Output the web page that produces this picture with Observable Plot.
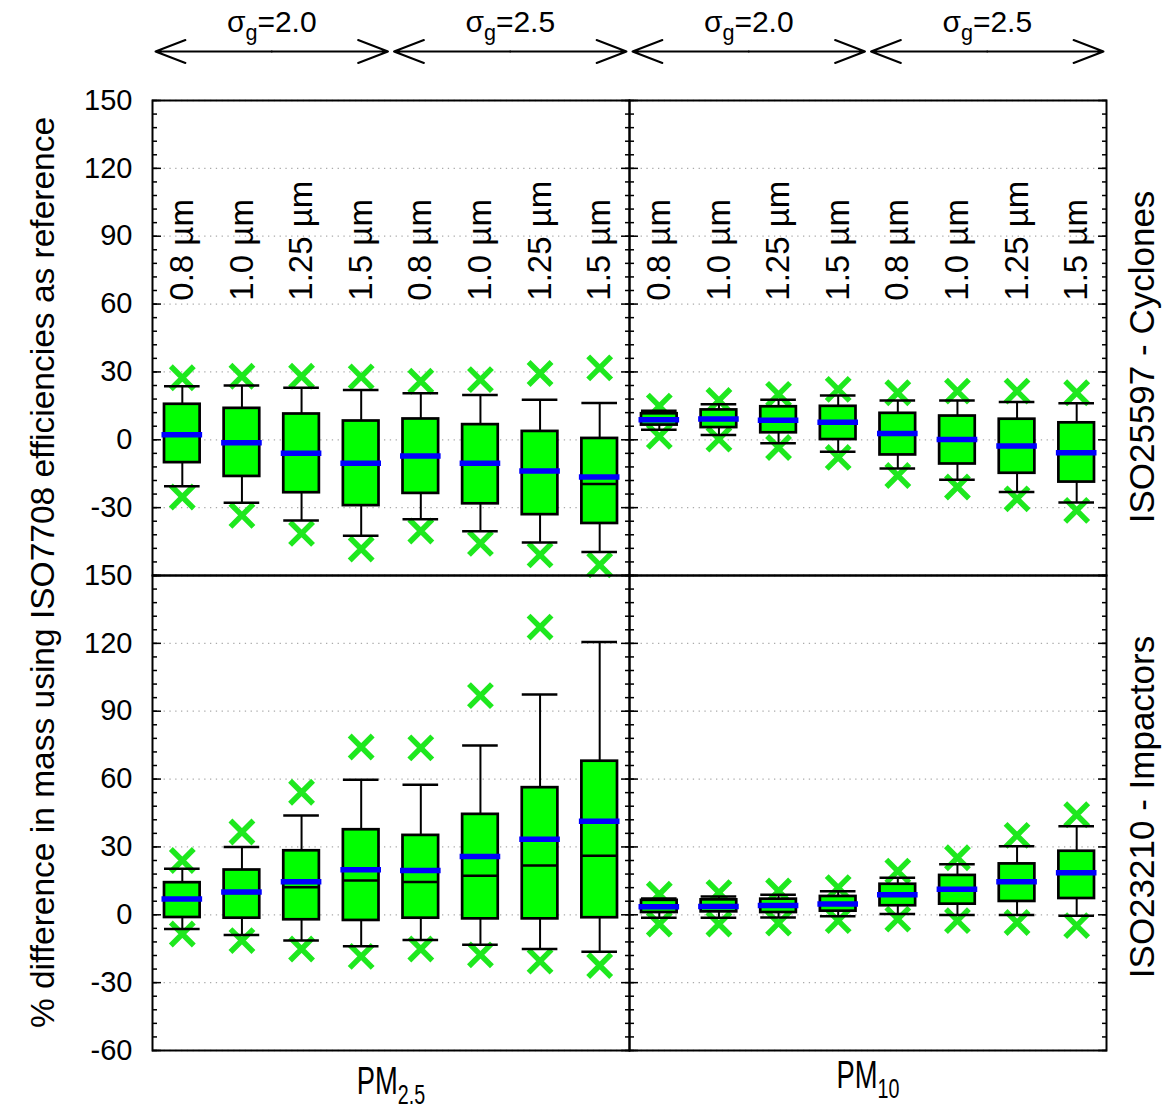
<!DOCTYPE html>
<html>
<head>
<meta charset="utf-8">
<script src="https://cdn.jsdelivr.net/npm/d3@7"></script>
<script src="https://cdn.jsdelivr.net/npm/@observablehq/plot@0.6"></script>
<style>
  body { margin: 0; background: #fff; }
  #chart { width: 1162px; height: 1112px; }
</style>
</head>
<body>
<div id="chart"></div>
<script>
// ---------- DATA ----------
const sizes = ["0.8 µm", "1.0 µm", "1.25 µm", "1.5 µm", "0.8 µm", "1.0 µm", "1.25 µm", "1.5 µm"];
const sigmaLabels = ["σ_{g}=2.0", "σ_{g}=2.5"];
const fractions = ["PM2.5", "PM10"];
const fractionLabels = ["PM_{2.5}", "PM_{10}"];
const samplers = ["Cyclones", "Impactors"];
const samplerLabels = ["ISO25597 - Cyclones", "ISO23210 - Impactors"];
const yTitle = "% difference in mass using ISO7708 efficiencies as reference";
const yTickLabels = [150, 120, 90, 60, 30, 0, -30, -60];

// panels in order: [fraction, sampler]
const panels = [["PM2.5", "Cyclones"], ["PM10", "Cyclones"], ["PM2.5", "Impactors"], ["PM10", "Impactors"]];

// statistics, one row of 8 boxes per panel
const xHigh = [
  [27.4, 28.1, 28.1, 27.8, 25.9, 26.6, 29.3, 31.8],
  [14.9, 17.4, 20.1, 22.3, 20.8, 21.5, 21.5, 20.8],
  [24.0, 36.6, 54.2, 74.2, 73.8, 96.9, 127.2, null],
  [9.1, 9.8, 10.5, 12.0, 19.3, 25.2, 35.1, 44.2]
];
const whiskerHigh = [
  [23.7, 24.0, 23.0, 22.0, 20.6, 19.8, 17.7, 16.3],
  [12.8, 15.7, 17.7, 19.6, 17.4, 17.4, 16.7, 16.1],
  [20.4, 30.0, 43.9, 59.7, 57.5, 74.8, 97.4, 120.6],
  [7.2, 8.1, 8.9, 10.4, 16.4, 22.3, 30.3, 39.1]
];
const q3 = [
  [15.7, 13.9, 11.4, 8.3, 9.2, 6.7, 3.7, 0.6],
  [11.5, 13.2, 14.6, 14.8, 11.7, 10.5, 9.1, 7.5],
  [14.2, 19.8, 28.3, 37.6, 35.1, 44.4, 56.2, 67.9],
  [6.4, 6.6, 6.9, 8.1, 13.5, 17.4, 22.5, 28.1]
];
const median = [
  [2.2, -1.3, -6.0, -10.4, -7.2, -10.4, -13.8, -19.5],
  [8.9, 9.2, 8.6, 7.8, 2.8, 0.1, -2.8, -5.7],
  [7.0, 9.6, 12.2, 15.2, 14.5, 17.3, 21.8, 26.1],
  [3.5, 3.7, 4.1, 4.8, 8.9, 11.3, 14.6, 18.6]
];
const mean = [
  [2.2, -1.3, -6.0, -10.4, -7.2, -10.4, -13.8, -16.5],
  [8.9, 9.2, 8.6, 7.8, 2.8, 0.1, -2.8, -5.7],
  [7.0, 10.1, 14.6, 19.9, 19.6, 25.8, 33.4, 41.4],
  [3.5, 3.7, 4.1, 4.8, 8.9, 11.3, 14.6, 18.6]
];
const q1 = [
  [-10.1, -16.2, -23.4, -29.1, -23.7, -28.3, -33.1, -37.0],
  [6.5, 5.4, 3.1, 0.1, -6.7, -10.7, -14.8, -18.7],
  [-1.2, -1.5, -2.2, -2.5, -1.5, -1.8, -1.8, -1.3],
  [1.0, 1.3, 1.0, 1.6, 4.0, 4.7, 5.9, 7.2]
];
const whiskerLow = [
  [-20.5, -27.8, -35.7, -42.4, -35.1, -40.4, -45.4, -49.6],
  [4.4, 2.1, -1.5, -5.3, -12.7, -17.7, -23.1, -27.7],
  [-6.3, -8.9, -11.4, -13.9, -11.1, -13.2, -15.1, -16.3],
  [-1.3, -1.3, -1.2, -0.7, 0.3, -0.1, -0.1, -0.4]
];
const xLow = [
  [-25.3, -33.4, -41.4, -48.3, -40.3, -45.8, -50.9, -55.3],
  [1.5, 0.3, -3.4, -7.8, -15.8, -20.9, -26.1, -31.2],
  [-8.5, -11.4, -15.1, -18.4, -15.1, -17.7, -20.5, -22.4],
  [-4.1, -4.1, -3.7, -2.6, -1.9, -2.6, -3.4, -4.8]
];

// ---------- TABLES ----------
const rows = [];
panels.forEach(([fx, fy], p) => {
  sizes.forEach((s, i) => {
    rows.push({fx, fy, i, size: s,
      xHigh: xHigh[p][i], wHigh: whiskerHigh[p][i], q3: q3[p][i], median: median[p][i],
      mean: mean[p][i], q1: q1[p][i], wLow: whiskerLow[p][i], xLow: xLow[p][i]});
  });
});
const catRows = [];
fractions.forEach(fx => sizes.forEach((s, i) => catRows.push({fx, fy: "Cyclones", i, label: s})));
const sigmaRows = [];
fractions.forEach(fx => sigmaLabels.forEach((label, g) => sigmaRows.push({fx, fy: "Cyclones", g, label})));
const tickLabelRows = [];
samplers.forEach((fy, r) => yTickLabels.forEach(v => {
  if (r === 0 && v === -60) return; // shared border with lower panel
  tickLabelRows.push({fx: "PM2.5", fy, v});
}));
const fxLabelRows = fractions.map((fx, k) => ({fx, fy: "Impactors", label: fractionLabels[k]}));

const majorTicks = d3.range(-60, 151, 30);
const minorTicks = d3.range(-60, 151, 6);

const green = "#00ff00";
const xGreen = "#1ee81e";
const sans = "Liberation Sans, Arial, sans-serif";

const tickOpts = {fill: "none", label: null, facetAnchor: null, strokeWidth: 1.5, stroke: "black"};
const pmOpts = {fx: "fx", fy: "fy", text: "label", frameAnchor: "bottom", lineAnchor: "bottom", textAnchor: "middle", fontSize: 38, fontFamily: sans, className: "subtext narrow"};

const chart = Plot.plot({
  width: 1162,
  height: 1112,
  marginTop: 100,
  marginBottom: 62,
  marginLeft: 152,
  marginRight: 56,
  style: {fontFamily: sans, background: "white", overflow: "visible"},
  fx: {domain: fractions, padding: 0, axis: null},
  fy: {domain: samplers, padding: 0, axis: null},
  x: {domain: [0, 8], axis: null},
  y: {domain: [-60, 150], axis: null},
  marks: [
    Plot.gridY(majorTicks, {stroke: "#aaa", strokeOpacity: 1, strokeWidth: 1.3, strokeDasharray: "1.3,4.5", facetAnchor: null}),
    // outliers (x markers)
    Plot.dot(rows.filter(d => d.xHigh != null), {fx: "fx", fy: "fy", x: d => d.i + 0.5, y: "xHigh", symbol: "times", r: 10.5, stroke: xGreen, strokeWidth: 5.5}),
    Plot.dot(rows, {fx: "fx", fy: "fy", x: d => d.i + 0.5, y: "xLow", symbol: "times", r: 10.5, stroke: xGreen, strokeWidth: 5.5}),
    // whiskers
    Plot.ruleX(rows, {fx: "fx", fy: "fy", x: d => d.i + 0.5, y1: "q3", y2: "wHigh", stroke: "black", strokeWidth: 2}),
    Plot.ruleX(rows, {fx: "fx", fy: "fy", x: d => d.i + 0.5, y1: "q1", y2: "wLow", stroke: "black", strokeWidth: 2}),
    Plot.ruleY(rows, {fx: "fx", fy: "fy", x1: d => d.i, x2: d => d.i + 1, y: "wHigh", insetLeft: 12, insetRight: 12, stroke: "black", strokeWidth: 2.5}),
    Plot.ruleY(rows, {fx: "fx", fy: "fy", x1: d => d.i, x2: d => d.i + 1, y: "wLow", insetLeft: 12, insetRight: 12, stroke: "black", strokeWidth: 2.5}),
    // boxes
    Plot.rect(rows, {fx: "fx", fy: "fy", x1: d => d.i, x2: d => d.i + 1, y1: "q1", y2: "q3", insetLeft: 12, insetRight: 12, fill: green, stroke: "black", strokeWidth: 2.7}),
    Plot.ruleY(rows, {fx: "fx", fy: "fy", x1: d => d.i, x2: d => d.i + 1, y: "median", insetLeft: 12, insetRight: 12, stroke: "black", strokeWidth: 2.5}),
    Plot.ruleY(rows, {fx: "fx", fy: "fy", x1: d => d.i, x2: d => d.i + 1, y: "mean", insetLeft: 9.5, insetRight: 9.5, stroke: "#0000ff", strokeWidth: 5.5}),
    // inner ticks on both sides of each panel
    Plot.axisY(minorTicks, {anchor: "left", tickSize: -5, ...tickOpts}),
    Plot.axisY(majorTicks, {anchor: "left", tickSize: -9, ...tickOpts}),
    Plot.axisY(minorTicks, {anchor: "right", tickSize: -5, ...tickOpts}),
    Plot.axisY(majorTicks, {anchor: "right", tickSize: -9, ...tickOpts}),
    Plot.frame({stroke: "black", strokeWidth: 2}),
    // y tick labels
    Plot.text(tickLabelRows, {fx: "fx", fy: "fy", y: "v", text: d => String(d.v), frameAnchor: "left", dx: -20, textAnchor: "end", fontSize: 29, fontFamily: sans}),
    // size labels
    Plot.text(catRows, {fx: "fx", fy: "fy", x: d => d.i + 0.5, y: () => 61.5, text: "label", rotate: -90, textAnchor: "start", lineAnchor: "middle", fontSize: 33, fontFamily: sans}),
    // sigma arrows and labels
    Plot.arrow(sigmaRows, {fx: "fx", fy: "fy", x1: d => 4 * d.g + 2, x2: d => 4 * d.g, y1: () => 150, y2: () => 150, dy: -49, insetEnd: 3, headLength: 24, headAngle: 42, stroke: "black", strokeWidth: 2}),
    Plot.arrow(sigmaRows, {fx: "fx", fy: "fy", x1: d => 4 * d.g + 2, x2: d => 4 * d.g + 4, y1: () => 150, y2: () => 150, dy: -49, insetEnd: 3, headLength: 24, headAngle: 42, stroke: "black", strokeWidth: 2}),
    Plot.text(sigmaRows, {fx: "fx", fy: "fy", x: d => 4 * d.g + 2, y: () => 150, dy: -69, text: "label", lineAnchor: "bottom", textAnchor: "middle", fontSize: 30, fontFamily: sans, className: "subtext"}),
    // fraction labels under panels
    Plot.text(fxLabelRows.filter(d => d.fx === "PM2.5"), {...pmOpts, dy: 43}),
    Plot.text(fxLabelRows.filter(d => d.fx === "PM10"), {...pmOpts, dy: 37}),
    // sampler labels at right
    Plot.text([{fx: "PM10", fy: "Cyclones", label: samplerLabels[0]}], {fx: "fx", fy: "fy", text: "label", frameAnchor: "right", dx: 36, dy: 19, rotate: -90, textAnchor: "middle", lineAnchor: "middle", fontSize: 35, fontFamily: sans}),
    Plot.text([{fx: "PM10", fy: "Impactors", label: samplerLabels[1]}], {fx: "fx", fy: "fy", text: "label", frameAnchor: "right", dx: 36, dy: -6, rotate: -90, textAnchor: "middle", lineAnchor: "middle", fontSize: 35, fontFamily: sans}),
    // y axis title
    Plot.text([{fx: "PM2.5", fy: "Cyclones"}], {fx: "fx", fy: "fy", text: () => yTitle, frameAnchor: "bottom-left", dx: -109, dy: -3, rotate: -90, textAnchor: "middle", lineAnchor: "middle", fontSize: 33.5, fontFamily: sans})
  ]
});

// render "_{...}" as subscripts
d3.select(chart).selectAll(".subtext text").each(function () {
  const t = d3.select(this);
  const s = t.text();
  const m = s.match(/^(.*?)_\{(.*?)\}(.*)$/);
  if (!m) return;
  const fs = parseFloat(t.attr("font-size")) || parseFloat(d3.select(this.parentNode).attr("font-size")) || 27;
  t.text(null);
  t.append("tspan").text(m[1]);
  t.append("tspan").attr("dy", fs * 0.28).attr("font-size", fs * 0.72).text(m[2]);
  if (m[3]) t.append("tspan").attr("dy", -fs * 0.28).text(m[3]);
});

// condensed look for the fraction labels
d3.select(chart).selectAll(".narrow text").each(function () {
  const t = d3.select(this);
  let tr = t.attr("transform");
  if (!tr) {
    const x = +t.attr("x") || 0, y = +t.attr("y") || 0;
    t.attr("x", null).attr("y", null);
    tr = `translate(${x},${y})`;
  }
  t.attr("transform", tr + " scale(0.72,1)");
});

document.getElementById("chart").appendChild(chart);
</script>
</body>
</html>
